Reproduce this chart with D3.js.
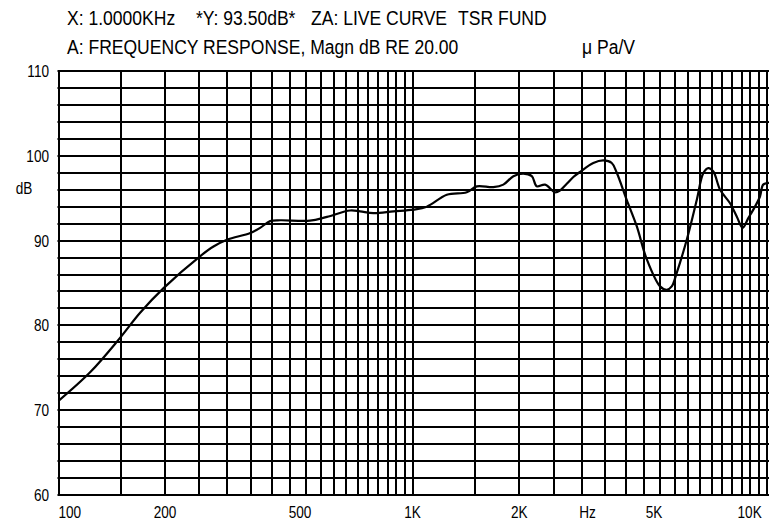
<!DOCTYPE html>
<html>
<head>
<meta charset="utf-8">
<script src="https://d3js.org/d3.v7.min.js"></script>
<style>
	body { margin: 0; background: #fff; }
	svg text {
		font-family: "Liberation Sans", Arial, sans-serif;
		fill: #000;
	}
	.grid line { stroke: #000; stroke-width: 2px; }
	.curve { fill: none; stroke: #000; stroke-width: 2.2px; stroke-linejoin: round; }
</style>
</head>
<body>
<div id="content"></div>
<script>

	var freqs = [100, 123, 148, 170, 198, 251, 274, 299, 348, 371, 396, 423, 513, 573, 666, 711, 775, 883,
	             1005, 1097, 1249, 1422, 1518, 1690, 1804, 1926, 2055, 2171, 2242, 2366, 2526, 2606, 2725,
	             2844, 2971, 3238, 3457, 3651, 3772, 4024, 4295, 4584, 4998, 5221, 5393, 5571, 5946, 6346,
	             6622, 6842, 7068, 7386, 7880, 8230, 8553, 8873, 9166, 9573, 9775, 10150];
	var levels = [71.1, 74.5, 78.35, 81.5, 84.4, 88.15, 89.3, 90.1, 90.9, 91.5, 92.3, 92.4, 92.35, 92.8, 93.55, 93.45, 93.25, 93.45,
	              93.65, 94.0, 95.4, 95.7, 96.4, 96.3, 96.6, 97.6, 97.9, 97.6, 96.4, 96.6, 95.7, 95.9, 96.7,
	              97.5, 98.1, 99.15, 99.45, 99.15, 98.0, 94.8, 91.7, 87.8, 84.6, 84.2, 84.6, 86.2, 90.1, 94.8,
	              97.96, 98.55, 98.15, 96.0, 94.4, 92.85, 91.5, 92.65, 93.65, 95.2, 96.6, 96.8];

	var yTicks = [60, 70, 80, 90, 100, 110];
	var xTickValues = [100, 200, 500, 1000, 2000, 5000, 10000];
	var xTickLabels = ["100", "200", "500", "1K", "2K", "5K", "10K"];

	var headerLine1 = ["X: 1.0000KHz", "*Y: 93.50dB*", "ZA: LIVE CURVE", "TSR FUND"];
	var headerLine2 = ["A: FREQUENCY RESPONSE, Magn dB RE 20.00", "\u03bc Pa/V"];

	var width = 769,
	    height = 525;

	var svg = d3.select("#content").append("svg")
	    .attr("width", width)
	    .attr("height", height);

	svg.append("rect").attr("width", width).attr("height", height).attr("fill", "#fff");

	var x = d3.scaleLog().domain([100, 10000]).range([58.5, 766.7]);
	var y = d3.scaleLinear().domain([60, 110]).range([495, 71]);

	// the plotter font is a narrow one, so squeeze the regular face sideways
	function place(sel, px, py, sx) {
		sel.attr("transform", function(d, i) {
			return "translate(" + px(d, i) + "," + py(d, i) + ") scale(" + sx + ",1)";
		});
	}

	// grid: every 50 Hz up to 1K, every 500 Hz above, every 2 dB
	var gridFreqs = d3.range(100, 1000, 50).concat(d3.range(1000, 10001, 500));
	var gridLevels = d3.range(60, 111, 2);

	var grid = svg.append("g").attr("class", "grid");

	grid.selectAll("line.v")
	    .data(gridFreqs)
	    .enter().append("line")
	      .attr("class", "v")
	      .attr("x1", function(d) { return Math.round(x(d)); })
	      .attr("x2", function(d) { return Math.round(x(d)); })
	      .attr("y1", y(110))
	      .attr("y2", y(60));

	grid.selectAll("line.h")
	    .data(gridLevels)
	    .enter().append("line")
	      .attr("class", "h")
	      .attr("x1", x(100) - 1)
	      .attr("x2", width)
	      .attr("y1", function(d) { return Math.round(y(d)); })
	      .attr("y2", function(d) { return Math.round(y(d)); });

	// the response curve
	var points = freqs.map(function(f, i) { return [f, levels[i]]; });

	var line = d3.line()
	    .x(function(d) { return x(d[0]); })
	    .y(function(d) { return y(d[1]); })
	    .curve(d3.curveCatmullRom.alpha(0.5));

	svg.append("path")
	    .datum(points)
	    .attr("class", "curve")
	    .attr("d", line);

	// y labels
	var yLab = svg.append("g").selectAll("text")
	    .data(yTicks)
	    .enter().append("text")
	      .attr("text-anchor", "end")
	      .attr("font-size", 16)
	      .text(function(d) { return d; });
	place(yLab, function() { return 49; }, function(d) { return y(d) + 6; }, 0.85);

	var dbLab = svg.append("text")
	    .attr("text-anchor", "middle")
	    .attr("font-size", 16)
	    .text("dB");
	place(dbLab, function() { return 24; }, function() { return 194; }, 0.85);

	// x labels
	var xLab = svg.append("g").selectAll("text")
	    .data(xTickValues)
	    .enter().append("text")
	      .attr("text-anchor", function(d, i) {
	      	if (i == 0) return "start";
	      	if (i == xTickValues.length - 1) return "end";
	      	return "middle";
	      })
	      .attr("font-size", 16)
	      .text(function(d, i) { return xTickLabels[i]; });
	place(xLab, function(d, i) {
		if (i == 0) return x(d);
		if (i == xTickValues.length - 1) return x(d) - 5;
		if (d == 500 || d == 5000) return x(d) - 6;
		return x(d);
	}, function() { return 518; }, 0.85);

	var hzLab = svg.append("text")
	    .attr("text-anchor", "middle")
	    .attr("font-size", 16)
	    .text("Hz");
	place(hzLab, function() { return x(3000) + 6; }, function() { return 518; }, 0.85);

	// header
	var line1X = [67, 196, 311, 458];
	var head1 = svg.append("g").selectAll("text")
	    .data(headerLine1)
	    .enter().append("text")
	      .attr("font-size", 20)
	      .text(function(d) { return d; });
	place(head1, function(d, i) { return line1X[i]; }, function() { return 25; }, 0.877);

	var line2X = [67, 582];
	var head2 = svg.append("g").selectAll("text")
	    .data(headerLine2)
	    .enter().append("text")
	      .attr("font-size", 20)
	      .text(function(d) { return d; });
	place(head2, function(d, i) { return line2X[i]; }, function() { return 54; }, 0.877);

</script>
</body>
</html>
